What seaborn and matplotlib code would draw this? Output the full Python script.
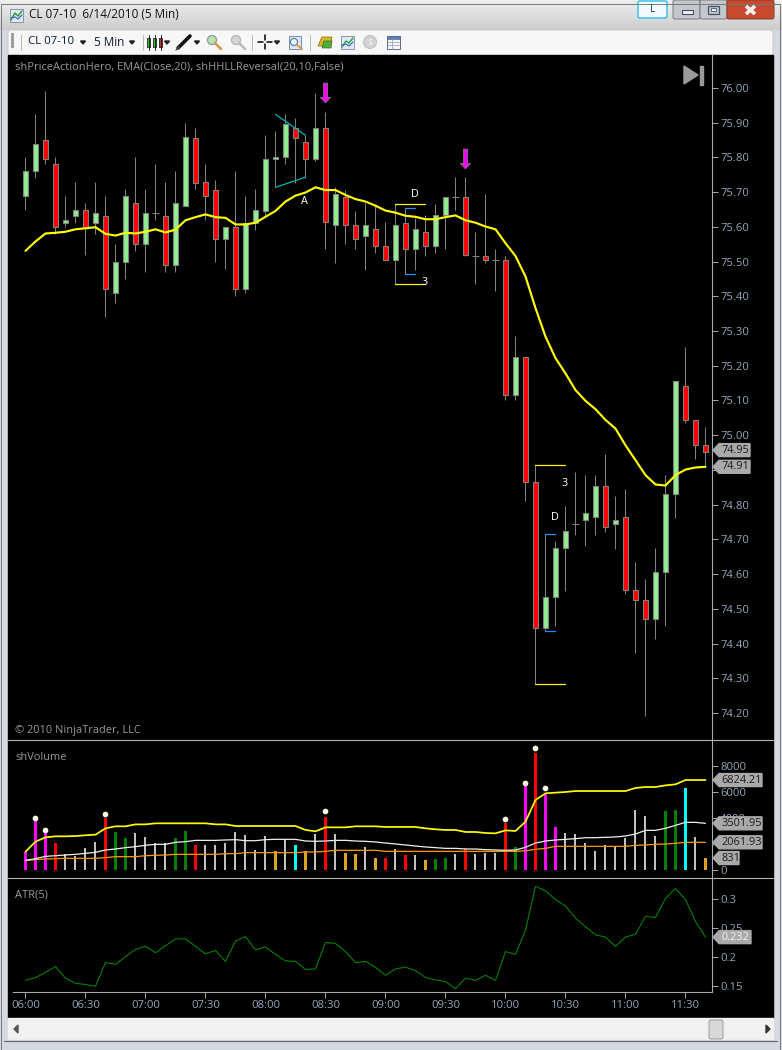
import numpy as np
import pandas as pd
import seaborn as sns
import matplotlib.pyplot as plt
from matplotlib.patches import Rectangle, Polygon, Circle, FancyBboxPatch

# Candles, 5 min bars from 06:00
opens = [75.69,75.76,75.85,75.78,75.61,75.63,75.65,75.61,75.63,75.41,75.50,75.67,75.55,75.64,75.63,75.49,75.66,75.855,75.73,75.705,75.565,75.60,75.42,75.61,
         75.645,75.795,75.80,75.885,75.845,75.795,75.885,75.605,75.685,75.605,75.575,75.595,75.545,75.505,75.61,75.535,75.585,75.545,75.635,75.685,75.685,75.515,75.515,75.505,
         75.505,75.115,75.224,74.864,74.444,74.533,74.674,74.743,74.755,74.763,74.853,74.743,74.763,74.553,74.524,74.472,74.605,74.832,75.143,75.043,74.973]
closes = [75.76,75.84,75.795,75.60,75.62,75.65,75.60,75.64,75.42,75.50,75.69,75.55,75.64,75.64,75.49,75.67,75.86,75.725,75.69,75.565,75.60,75.42,75.61,75.65,
          75.795,75.80,75.895,75.855,75.795,75.885,75.615,75.695,75.605,75.565,75.605,75.545,75.505,75.605,75.535,75.595,75.545,75.635,75.685,75.685,75.52,75.515,75.505,75.505,
          75.115,75.224,74.864,74.444,74.533,74.674,74.723,74.743,74.775,74.853,74.735,74.755,74.553,74.524,74.472,74.605,74.832,75.155,75.043,74.973,74.953]
highs = [75.80,75.925,75.99,75.80,75.69,75.73,75.67,75.73,75.69,75.55,75.71,75.80,75.71,75.78,75.73,75.76,75.90,75.885,75.78,75.735,75.60,75.76,75.69,75.71,
         75.865,75.875,75.925,75.915,75.865,75.985,75.93,75.715,75.705,75.645,75.67,75.66,75.615,75.665,75.655,75.625,75.635,75.665,75.685,75.745,75.745,75.585,75.695,75.535,
         75.516,75.286,75.224,74.913,74.714,74.695,74.796,74.894,74.885,74.885,74.945,74.825,74.845,74.635,74.586,74.674,74.885,75.155,75.254,75.043,75.023]
lows = [75.65,75.74,75.78,75.58,75.60,75.61,75.52,75.58,75.34,75.38,75.45,75.53,75.47,75.62,75.47,75.47,75.66,75.71,75.62,75.50,75.48,75.40,75.41,75.59,
        75.63,75.715,75.78,75.725,75.74,75.79,75.535,75.495,75.55,75.535,75.475,75.525,75.505,75.435,75.465,75.475,75.515,75.525,75.535,75.65,75.515,75.435,75.495,75.415,
        75.10,75.10,74.81,74.282,74.435,74.45,74.552,74.712,74.682,74.712,74.722,74.672,74.543,74.373,74.192,74.414,74.45,74.762,75.034,74.932,74.907]
ema = [75.531,75.558,75.581,75.583,75.586,75.593,75.596,75.599,75.580,75.575,75.583,75.581,75.586,75.593,75.584,75.592,75.619,75.628,75.636,75.628,75.626,75.607,75.607,75.612,
       75.629,75.646,75.673,75.690,75.699,75.714,75.706,75.706,75.692,75.680,75.673,75.661,75.647,75.641,75.632,75.629,75.622,75.622,75.628,75.633,75.619,75.612,75.601,75.593,
       75.553,75.516,75.457,75.366,75.284,75.222,75.178,75.13,75.099,75.075,75.044,75.019,74.971,74.928,74.885,74.858,74.855,74.885,74.901,74.907,74.909]

# Volume panel
volume = [1410,3900,2950,2080,1230,1080,1690,2150,4000,2920,2460,2850,2540,2080,2080,2460,3000,1920,1920,1920,2080,2920,2690,1540,
          2620,1460,2360,1920,1460,2770,4080,2770,1310,1230,1770,920,920,1620,1150,1150,770,850,920,1230,1690,1230,1310,1310,
          3620,1770,6460,9000,5920,3310,2850,2770,2080,1460,1920,1850,2460,4620,4150,2620,4540,4620,6310,2540,920]
vol_colors = ['magenta','magenta','magenta','red','silver','silver','silver','silver','red','green','green','silver','silver','silver','silver','green','green','red','silver','silver','silver','silver','silver','silver',
              'silver','goldenrod','silver','cyan','goldenrod','silver','red','silver','goldenrod','goldenrod','silver','goldenrod','red','silver','red','silver','goldenrod','green','green','silver','red','silver','silver','silver',
              'red','green','magenta','red','magenta','magenta','silver','silver','silver','silver','silver','silver','silver','silver','silver','silver','green','green','cyan','silver','goldenrod']
vol_yellow = [1410,2180,2510,2590,2590,2615,2670,2720,3205,3360,3360,3510,3510,3590,3590,3590,3590,3590,3590,3510,3510,3385,3385,3385,
              3385,3385,3385,3385,3080,2975,3280,3280,3280,3360,3360,3360,3310,3310,3310,3310,3205,3130,3080,3080,2925,2925,2845,2820,
              3050,3000,3720,5385,5900,5950,6000,6075,6075,6075,6075,6075,6075,6310,6385,6385,6510,6590,6920,6920,6920]
vol_white = [745,870,1050,1100,1155,1205,1280,1360,1540,1615,1720,1795,1900,1975,1975,2130,2180,2280,2280,2280,2310,2335,2255,2255,
             2335,2360,2360,2360,2230,2205,2230,2280,2280,2230,2205,2155,2075,2000,1925,1845,1770,1720,1665,1665,1615,1615,1565,1540,
             1515,1540,1745,2075,2230,2310,2360,2410,2485,2485,2515,2540,2615,2770,3050,3050,3205,3435,3665,3665,3590]
vol_orange = [720,800,845,870,900,900,900,900,950,1025,1025,1025,1100,1130,1155,1205,1205,1205,1205,1205,1255,1255,1335,1335,
              1335,1335,1335,1335,1385,1385,1435,1515,1515,1515,1515,1515,1435,1435,1435,1435,1435,1435,1435,1435,1435,1435,1435,1435,
              1435,1435,1480,1590,1665,1820,1820,1820,1820,1820,1820,1820,1820,1895,1925,1975,2000,2050,2130,2130,2130]
dot_idx = [1,2,8,30,48,50,51,52]
dot_vals = [4025,3100,4330,4540,3920,6720,9385,6335]

# ATR panel
atr = [0.159,0.164,0.173,0.183,0.163,0.154,0.152,0.149,0.190,0.187,0.200,0.213,0.218,0.207,0.219,0.231,0.231,0.218,0.205,0.211,0.192,0.227,0.235,0.212,
       0.217,0.204,0.193,0.192,0.178,0.179,0.225,0.223,0.209,0.190,0.192,0.182,0.168,0.179,0.182,0.176,0.164,0.160,0.157,0.145,0.163,0.159,0.168,0.159,
       0.209,0.204,0.246,0.322,0.314,0.299,0.288,0.267,0.252,0.238,0.234,0.218,0.234,0.239,0.270,0.268,0.301,0.318,0.299,0.261,0.234]

price_ticks = [76.0,75.9,75.8,75.7,75.6,75.5,75.4,75.3,75.2,75.1,75.0,74.9,74.8,74.7,74.6,74.5,74.4,74.3,74.2]
vol_ticks = [0,2000,4000,6000,8000]
atr_ticks = [0.15,0.2,0.25,0.3]
atr_labels = ['0.15','0.2','0.25','0.3']
time_ticks = list(range(0,67,6))
time_labels = ['06:00','06:30','07:00','07:30','08:00','08:30','09:00','09:30','10:00','10:30','11:00','11:30']

W, H = 782, 1050
TICK_COL = '#94a6b8'
TXT_COL = '#9a9a9a'
FONT = ['Open Sans', 'DejaVu Sans']

sns.set_theme(style='dark', rc={'axes.grid': False})
plt.rcParams['font.family'] = FONT

fig = plt.figure(figsize=(W/100, H/100), dpi=100, facecolor='#dde1e6')

def px_axes(x0, y0, x1, y1, **kw):
    # axes placed by screen pixels, y counted from the top
    return fig.add_axes([x0/W, 1-y1/H, (x1-x0)/W, (y1-y0)/H], **kw)

# --- window chrome, pixel coordinates ---
bg = px_axes(0, 0, W, H, zorder=0)
bg.set_xlim(0, W); bg.set_ylim(H, 0); bg.axis('off')
bg.imshow(np.linspace(0.93, 0.80, 30).reshape(-1, 1), extent=(0, W, 30, 0), cmap='gray', vmin=0, vmax=1, aspect='auto')
bg.set_xlim(0, W); bg.set_ylim(H, 0)
bg.add_patch(Rectangle((0, 30), 8, H-30, color='#d4d9df'))
bg.add_patch(Rectangle((773, 30), 9, H-30, color='#d4d9df'))
bg.add_patch(FancyBboxPatch((8, 30), 765, 26, boxstyle='round,pad=0,rounding_size=3', fc='#f7f7f7', ec='#c8c8c8', lw=0.7))
bg.add_patch(Rectangle((8, 55), 765, 963, color='black'))
bg.add_patch(Rectangle((8, 1018), 765, 22, color='#f1f1f1'))
bg.add_patch(Rectangle((0, 1040), W, 10, color='#d4d9df'))
bg.plot([1, 1, W-2, W-2], [H, 4, 4, H], color='#777777', lw=0.7)
bg.plot([4, W-5], [1041, 1041], color='#666666', lw=0.8)
bg.add_patch(FancyBboxPatch((709, 1020), 14, 19, boxstyle='round,pad=0,rounding_size=2', fc='#d8d8d8', ec='#999999', lw=0.7))
bg.add_patch(Polygon([[14, 1029], [18, 1025], [18, 1033]], color='#555555'))
bg.add_patch(Polygon([[766, 1025], [766, 1033], [770, 1029]], color='#333333'))

# title bar
bg.add_patch(Rectangle((10, 9), 13, 13, fc='#dfe8f5', ec='#7a8aa8', lw=0.6))
bg.plot([11, 15, 18, 22], [20, 13, 16, 11], color='#2f9e3f', lw=1.1)
bg.plot([11, 15, 18, 22], [18, 17, 19, 15], color='#3060c0', lw=0.8)
bg.text(29, 15, 'CL 07-10  6/14/2010 (5 Min)', fontsize=8.45, color='#111111', va='center')
bg.add_patch(FancyBboxPatch((638, 1), 29, 17, boxstyle='round,pad=0,rounding_size=2', fc='#f4fbff', ec='#26c0e8', lw=1))
bg.text(653, 10, 'L', fontsize=7.5, color='#1c3f80', ha='center', va='center')
bg.add_patch(FancyBboxPatch((673, 0), 27, 19, boxstyle='round,pad=0,rounding_size=2', fc='#c4c8cc', ec='#77797c', lw=0.7))
bg.add_patch(FancyBboxPatch((700, 0), 27, 19, boxstyle='round,pad=0,rounding_size=2', fc='#c4c8cc', ec='#77797c', lw=0.7))
bg.add_patch(FancyBboxPatch((727, 0), 47, 19, boxstyle='round,pad=0,rounding_size=2', fc='#c9492f', ec='#7c3a30', lw=0.7))
bg.add_patch(Rectangle((682, 10), 11, 4, fc='#f0f0f0', ec='#40536d', lw=0.8))
bg.add_patch(Rectangle((708, 6), 11, 8, fc='none', ec='#40536d', lw=0.9))
bg.add_patch(Rectangle((711, 8), 5, 3, fc='#f0f0f0', ec='#40536d', lw=0.6))
bg.plot([746, 755], [6, 14], color='#f2f2f2', lw=2.6, solid_capstyle='butt')
bg.plot([746, 755], [14, 6], color='#f2f2f2', lw=2.6, solid_capstyle='butt')

# toolbar
for y in [34, 37, 40, 43, 46]:
    bg.plot([12], [y], marker='s', ms=1.2, color='#999999')
for x in [21, 143, 252, 310]:
    bg.plot([x, x], [35, 50], color='#b8b8b8', lw=0.7)
bg.text(28, 42, 'CL 07-10', fontsize=8.2, color='#0b1a33', va='center')
bg.text(94, 42, '5 Min', fontsize=8.5, color='#0b1a33', va='center')
for x in [83, 132, 167, 197, 277]:
    bg.add_patch(Polygon([[x-2.5, 41], [x+2.5, 41], [x, 44]], color='#222222'))
for x, c in [(148.5, '#22cc22'), (154.5, '#22cc22'), (160.5, '#ee2222')]:
    bg.plot([x, x], [35, 50], color='#222222', lw=0.7)
    bg.add_patch(Rectangle((x-1.5, 38), 3, 9, fc=c, ec='#222222', lw=0.6))
bg.plot([178, 190], [48, 36], color='#111111', lw=2.6)
bg.plot([176, 179], [50, 47], color='#555555', lw=1)
for x, c in [(212, '#bfe3b0'), (236, '#d6d6d6')]:
    bg.add_patch(Circle((x, 40), 4.5, fc=c, ec='#7f9aa8' if x < 220 else '#b0b0b0', lw=0.9))
    bg.plot([x+3, x+9], [43, 49], color='#d8963c' if x < 220 else '#bbbbbb', lw=1.8)
bg.plot([258, 263], [42, 42], color='black', lw=1.1)
bg.plot([267, 272], [42, 42], color='black', lw=1.1)
bg.plot([265, 265], [35, 40], color='black', lw=1.1)
bg.plot([265, 265], [44, 49], color='black', lw=1.1)
bg.add_patch(Rectangle((289, 36), 12, 13, fc='#dce8f4', ec='#7a8aa8', lw=0.7))
bg.add_patch(Circle((294, 42), 3.5, fc='#f4f8fc', ec='#4a7ab0', lw=0.8))
bg.plot([297, 302], [45, 49], color='#d8963c', lw=1.3)
bg.add_patch(Polygon([[318, 46], [322, 37], [332, 37], [330, 46]], fc='#dcb820', ec='#7a6a10', lw=0.5))
bg.add_patch(Polygon([[322, 48], [324, 41], [332, 41], [331, 48]], fc='#4fae3a', ec='#2f6a20', lw=0.5))
bg.add_patch(Rectangle((341, 36), 13, 13, fc='#dfe8f5', ec='#7a8aa8', lw=0.6))
bg.plot([342, 346, 349, 353], [47, 41, 43, 38], color='#2f9e3f', lw=1)
bg.plot([342, 346, 349, 353], [45, 44, 46, 42], color='#3060c0', lw=0.8)
bg.add_patch(Circle((370, 42), 6.5, fc='#d2d2d2', ec='#bdbdbd', lw=0.7))
bg.text(370, 42, '$', fontsize=6.5, color='#f2f2f2', ha='center', va='center')
bg.add_patch(Rectangle((387, 36), 13, 13, fc='#f5f5f5', ec='#5a6a80', lw=0.7))
bg.add_patch(Rectangle((387, 36), 13, 3, fc='#5a80b8', ec='#5a6a80', lw=0.5))
for y in [42, 45]:
    bg.plot([388, 399], [y, y], color='#9aa8b8', lw=0.6)
bg.plot([392, 392], [39, 49], color='#9aa8b8', lw=0.6)

# --- chart panels ---
idx = np.arange(len(closes))
xlim = ((8-25.5)/10, (712-25.5)/10)
ax_p = px_axes(8, 55, 712, 739, zorder=2, facecolor='none')
ax_v = px_axes(8, 740, 712, 877, zorder=2, facecolor='none')
ax_a = px_axes(8, 878, 712, 992, zorder=2, facecolor='none')

# candles
cdf = pd.DataFrame({'i': idx, 'open': opens, 'close': closes, 'high': highs, 'low': lows})
cdf['top'] = cdf[['open', 'close']].max(axis=1)
cdf['bot'] = cdf[['open', 'close']].min(axis=1)
cdf['up'] = cdf['close'] >= cdf['open']
ax_p.vlines(cdf['i'], cdf['low'], cdf['high'], color='#808080', lw=0.75, zorder=2)
body = cdf[(cdf['top']-cdf['bot']) >= 0.002]
doji = cdf[(cdf['top']-cdf['bot']) < 0.002]
ax_p.bar(body['i'], body['top']-body['bot'], bottom=body['bot'], width=0.58,
         color=['#90ee90' if u else '#ff0000' for u in body['up']], edgecolor='#808080', linewidth=0.8, zorder=3)
ax_p.hlines(doji['close'], doji['i']-0.32, doji['i']+0.32, color='#808080', lw=0.75, zorder=3)
sns.lineplot(x=idx, y=ema, ax=ax_p, color='#ffff00', lw=1.55, zorder=5)

# signals on the price panel
for i, p0, p1 in [(30, 76.014, 75.957), (44, 75.824, 75.767)]:
    ax_p.annotate('', xy=(i, p1), xytext=(i, p0), zorder=6,
                  arrowprops=dict(facecolor='#ff00ff', edgecolor='#808080', lw=0.5, width=3.0, headwidth=7.5, headlength=4, shrink=0))
ax_p.plot([25, 28], [75.924, 75.864], color='#00b4b4', lw=0.9, zorder=4)
ax_p.plot([25, 28], [75.714, 75.743], color='#00b4b4', lw=0.9, zorder=4)
for i0, i1, p in [(37, 40, 75.665), (37, 40, 75.435), (51, 54, 74.913), (51, 54, 74.282)]:
    ax_p.plot([i0, i1], [p, p], color='#ffff00', lw=0.9, zorder=4)
for i0, i1, p in [(38, 39, 75.653), (38, 39, 75.463), (52, 53, 74.714), (52, 53, 74.435)]:
    ax_p.plot([i0, i1], [p, p], color='#1e90ff', lw=0.9, zorder=4)
for tx, ty, s in [(27.85, 75.672, 'A'), (38.95, 75.692, 'D'), (39.95, 75.441, '3'), (53.95, 74.862, '3'), (52.95, 74.762, 'D')]:
    ax_p.text(tx, ty, s, color='white', fontsize=7.8, ha='center', va='center', zorder=6)
ax_p.set_ylim(76-(739-88)/347.2, 76-(55-88)/347.2)

# volume bars, silver ones are a pixel thinner
vdf = pd.DataFrame({'i': idx, 'vol': volume, 'col': vol_colors})
thick = vdf[vdf['col'] != 'silver']
sns.barplot(data=vdf[vdf['col'] == 'silver'], x='i', y='vol', color='silver', saturation=1,
            native_scale=True, width=0.2, linewidth=0, edgecolor='none', ax=ax_v, zorder=2)
sns.barplot(data=thick, x='i', y='vol', hue='col', palette={c: c for c in thick['col'].unique()}, saturation=1,
            native_scale=True, dodge=False, width=0.3, linewidth=0, edgecolor='none', legend=False, ax=ax_v, zorder=2)
sns.lineplot(x=idx, y=vol_orange, ax=ax_v, color='#ff9a00', lw=0.9, zorder=3)
sns.lineplot(x=idx, y=vol_white, ax=ax_v, color='#f0f0f0', lw=0.9, zorder=3)
sns.lineplot(x=idx, y=vol_yellow, ax=ax_v, color='#ffff00', lw=1.25, zorder=4)
sns.scatterplot(x=dot_idx, y=dot_vals, ax=ax_v, color='#fffbe0', s=17, linewidth=0, zorder=5)
ax_v.set_ylim((390-411)*25.64, 10000)

# ATR line
sns.lineplot(x=idx, y=atr, ax=ax_a, color='#008000', lw=0.8)
ax_a.set_ylim(0.3-(351-72)/1733, 0.3-(9-72)/1733)

for ax in (ax_p, ax_v, ax_a):
    ax.set_xlim(*xlim)
    ax.set_xlabel(''); ax.set_ylabel('')
    ax.yaxis.tick_right()
    ax.tick_params(axis='y', length=4.3, width=0.7, color='#aaaaaa', labelcolor=TICK_COL, labelsize=8.1, pad=1.5, right=True, left=False)
    for s in ('top', 'left', 'bottom'):
        ax.spines[s].set_visible(False)
    ax.spines['right'].set_visible(True)
    ax.spines['right'].set_color('#aaaaaa')
    ax.spines['right'].set_linewidth(0.8)
    ax.set_xticks([])

ax_p.set_yticks(price_ticks)
ax_p.set_yticklabels([f'{p:.2f}' for p in price_ticks])
ax_v.set_yticks(vol_ticks)
ax_v.set_yticklabels([str(v) for v in vol_ticks])
ax_a.set_yticks(atr_ticks)
ax_a.set_yticklabels(atr_labels)
ax_a.set_xticks(time_ticks)
ax_a.set_xticklabels(time_labels)
ax_a.tick_params(axis='x', length=4.3, width=0.7, color='#aaaaaa', labelcolor=TICK_COL, labelsize=8.1, pad=1.5, bottom=True)
ax_a.spines['bottom'].set_visible(True)
ax_a.spines['bottom'].set_color('#aaaaaa')
ax_a.spines['bottom'].set_linewidth(0.8)
ax_a.spines['bottom'].set_bounds((13-25.5)/10, xlim[1])

# --- overlay: panel rules, captions, value tags ---
top = px_axes(0, 0, W, H, zorder=5, facecolor='none')
top.set_xlim(0, W); top.set_ylim(H, 0); top.axis('off')
for y in [739.5, 877.5]:
    top.plot([8, 773], [y, y], color='#b4b4b4', lw=0.8)
top.text(15, 67, 'shPriceActionHero, EMA(Close,20), shHHLLReversal(20,10,False)', fontsize=7.95, color=TXT_COL, va='center')
top.text(15, 730, '© 2010 NinjaTrader, LLC', fontsize=7.95, color=TXT_COL, va='center')
top.text(15, 757, 'shVolume', fontsize=7.95, color=TXT_COL, va='center')
top.text(15, 895, 'ATR(5)', fontsize=7.95, color=TXT_COL, va='center')
top.add_patch(Polygon([[684, 66], [684, 84], [698, 75]], color='#9a9a9a'))
top.add_patch(Rectangle((700, 66), 3, 19, color='#9a9a9a'))

def tag(ax, value, text, x1, txt_col='#1a1a1a'):
    # grey pointer tag to the right of the axis, at the height of a value
    y = H - ax.transData.transform((0, value))[1]
    top.add_patch(Polygon([[713, y], [719, y-6.5], [x1, y-6.5], [x1, y+6.5], [719, y+6.5]], color='#a9a9a9'))
    top.text(721, y, text, fontsize=7.9, color=txt_col, va='center')

tag(ax_p, 74.957, '74.95', 750)
tag(ax_p, ema[-1], '74.91', 750)
tag(ax_v, vol_yellow[-1], '6824.21', 762)
tag(ax_v, vol_white[-1], '3501.95', 762)
tag(ax_v, vol_orange[-1], '2061.93', 762)
tag(ax_v, volume[-1], '831', 739)
tag(ax_a, atr[-1], '0.232', 751, '#f2f2f2')

fig.savefig('out.png', dpi=100, facecolor=fig.get_facecolor())
